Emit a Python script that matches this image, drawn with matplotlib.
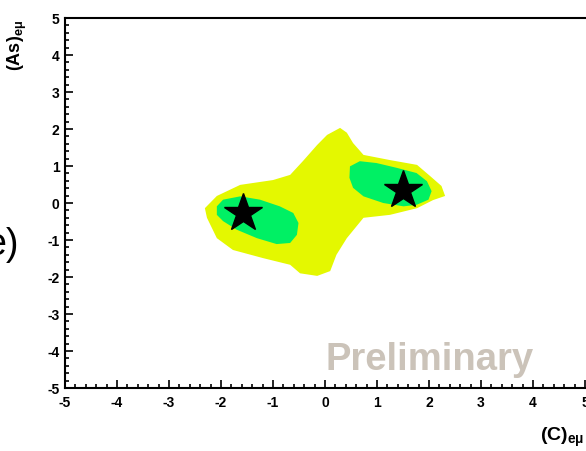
import matplotlib
matplotlib.use("Agg")
import matplotlib.pyplot as plt
from matplotlib.ticker import MultipleLocator

plt.rcParams['font.family'] = ['Liberation Sans', 'DejaVu Sans']
plt.rcParams['axes.unicode_minus'] = False
plt.rcParams['mathtext.fontset'] = 'custom'
plt.rcParams['mathtext.rm'] = 'Liberation Sans'
plt.rcParams['mathtext.bf'] = 'Liberation Sans:bold'

# allowed region (outer, yellow)
outer_x = [0.29, 0.42, 0.54, 0.74, 1.25, 1.77, 2.02, 2.24, 2.31, 2.08, 1.77, 1.25, 0.74,
           0.42, 0.22, 0.10, -0.15, -0.48, -0.67, -1.19, -1.77, -2.08, -2.27, -2.31,
           -2.08, -1.63, -1.00, -0.67, -0.42, -0.15, 0.04]
outer_y = [2.03, 1.90, 1.62, 1.30, 1.16, 1.03, 0.73, 0.46, 0.19, 0.08, -0.14, -0.32, -0.40,
           -0.95, -1.40, -1.84, -1.97, -1.90, -1.67, -1.49, -1.27, -0.95, -0.40, -0.14,
           0.19, 0.49, 0.62, 0.76, 1.14, 1.57, 1.84]

# inner regions (green)
left_x = [-2.08, -1.96, -1.63, -1.25, -0.87, -0.61, -0.51, -0.54, -0.67, -0.93, -1.31, -1.70, -1.96, -2.08]
left_y = [-0.09, 0.09, 0.18, 0.09, -0.09, -0.27, -0.54, -0.86, -1.08, -1.11, -0.95, -0.72, -0.49, -0.32]
right_x = [0.48, 0.67, 0.99, 1.38, 1.76, 1.96, 2.05, 1.99, 1.76, 1.51, 1.12, 0.74, 0.54, 0.47]
right_y = [0.99, 1.13, 1.08, 0.95, 0.81, 0.59, 0.32, 0.09, -0.05, -0.09, 0.00, 0.18, 0.41, 0.68]

# best fit points
star_x = [-1.58, 1.50]
star_y = [-0.27, 0.35]

fig = plt.figure(figsize=(5.86, 4.52), dpi=100)
ax = fig.add_axes([65/586, 1-389/452, 520/586, 370/452])

ax.fill(outer_x, outer_y, color='#e4f800', lw=0)
ax.fill(left_x, left_y, color='#00f064', lw=0)
ax.fill(right_x, right_y, color='#00f064', lw=0)
ax.plot(star_x, star_y, ls='none', marker='*', ms=29, color='black')

ax.text(0.0, -4.5, 'Preliminary', fontsize=27.5, fontweight='bold', color='#cbc3b9',
        ha='left', va='baseline')

ax.set_xlim(-5, 5)
ax.set_ylim(-5, 5)
ax.xaxis.set_major_locator(MultipleLocator(1))
ax.xaxis.set_minor_locator(MultipleLocator(0.2))
ax.yaxis.set_major_locator(MultipleLocator(1))
ax.yaxis.set_minor_locator(MultipleLocator(0.2))
ax.tick_params(which='both', direction='in', width=1.2, labelsize=10)
ax.tick_params(which='major', length=6)
ax.tick_params(which='minor', length=3)
ax.tick_params(axis='x', pad=5)
ax.tick_params(axis='y', pad=4)
for lab in ax.get_xticklabels() + ax.get_yticklabels():
    lab.set_fontweight('bold')
ax.spines['right'].set_visible(False)
for s in ['left', 'top', 'bottom']:
    ax.spines[s].set_linewidth(1.5)

fig.text(584/586, 1-437/452, r'$\mathbf{(C)}_{\mathbf{e\mu}}$', fontsize=14,
         ha='right', va='center')
fig.text(17/586, 1-20/452, r'$\mathbf{(As)}_{\mathbf{e\mu}}$', fontsize=13,
         ha='center', va='top', rotation=90)
fig.text(19/586, 1-245/452, 'e)', fontsize=27, ha='right', va='center')

fig.savefig('out.png', dpi=100)
